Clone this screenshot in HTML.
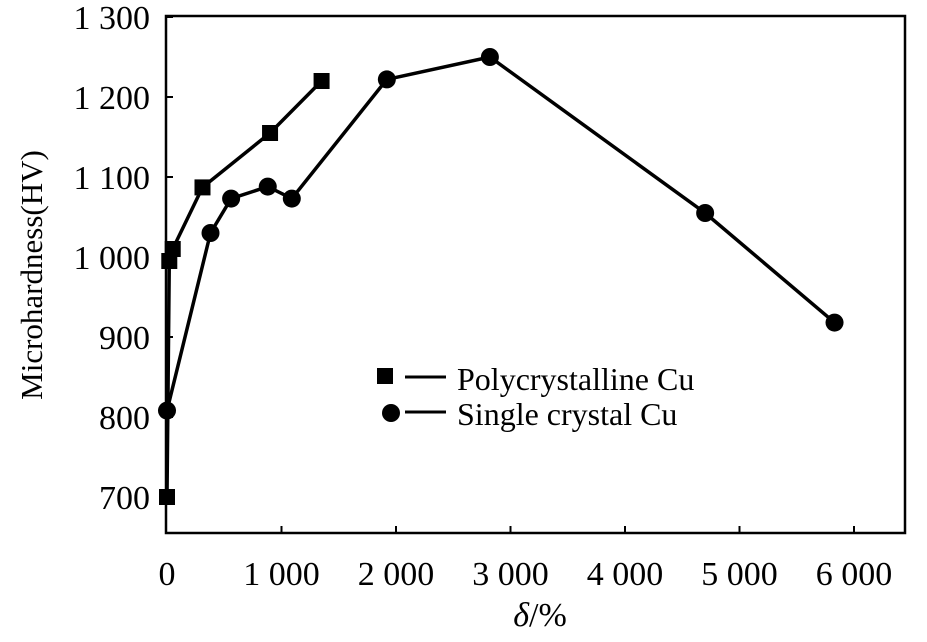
<!DOCTYPE html>
<html><head><meta charset="utf-8"><style>
body{margin:0;background:#fff}
text{font-family:"Liberation Serif",serif;fill:#000}
</style></head><body>
<svg width="927" height="637" xmlns="http://www.w3.org/2000/svg">
<rect x="166" y="16" width="739" height="517" fill="none" stroke="#000" stroke-width="2.5"/>
<g id="ticks"></g>
<g id="series"></g>
<g>
<rect x="377" y="368" width="16" height="16" fill="#000"/>
<line x1="405" y1="377" x2="446" y2="377" stroke="#000" stroke-width="3"/>
<text x="457" y="390" font-size="32">Polycrystalline Cu</text>
<circle cx="391" cy="413" r="9" fill="#000"/>
<line x1="405" y1="412" x2="446" y2="412" stroke="#000" stroke-width="3"/>
<text x="457" y="425" font-size="32">Single crystal Cu</text>
</g>
<text transform="translate(42,275) rotate(-90)" text-anchor="middle" font-size="31">Microhardness(HV)</text>
<text x="540" y="626" text-anchor="middle" font-size="34"><tspan font-style="italic">δ</tspan>/%</text>
</svg>
<script>
const xTicks=[0,1000,2000,3000,4000,5000,6000];
const xTickLabels=["0","1 000","2 000","3 000","4 000","5 000","6 000"];
const yTicks=[700,800,900,1000,1100,1200,1300];
const yTickLabels=["700","800","900","1 000","1 100","1 200","1 300"];
const polyX=[0,20,50,310,900,1350];
const polyY=[700,995,1010,1087,1155,1220];
const singleX=[0,380,560,880,1090,1920,2820,4700,5830];
const singleY=[808,1030,1073,1088,1073,1222,1250,1055,918];
const NS="http://www.w3.org/2000/svg";
function sx(v){return 167+v*0.1145;}
function sy(v){return 17+(1300-v)*0.80;}
const tg=document.getElementById('ticks');
function mk(tag,attrs,parent){const e=document.createElementNS(NS,tag);for(const k in attrs)e.setAttribute(k,attrs[k]);parent.appendChild(e);return e;}
xTicks.forEach((v,i)=>{
  if(v>0){const t=mk('line',{x1:sx(v),x2:sx(v),y1:533,y2:526,stroke:'#000','stroke-width':2},tg);
  
  }
  const l=mk('text',{x:sx(v),y:585,'text-anchor':'middle','font-size':34},tg);
  
  
  l.textContent=xTickLabels[i];
});
yTicks.forEach((v,i)=>{
  const t=mk('line',{x1:166,x2:173,y1:sy(v),y2:sy(v),stroke:'#000','stroke-width':2},tg);
  
  
  const l=mk('text',{x:150,y:sy(v)+12,'text-anchor':'end','font-size':34},tg);
  
  
  l.textContent=yTickLabels[i];
});
const sg=document.getElementById('series');
function line(xs,ys,name){
  const p=mk('polyline',{points:xs.map((x,i)=>sx(x)+','+sy(ys[i])).join(' '),fill:'none',stroke:'#000','stroke-width':3.5},sg);
  
  
}
line(polyX,polyY,'polycrystalline-line');
line(singleX,singleY,'single-crystal-line');
polyX.forEach((x,i)=>{
  const r=mk('rect',{x:sx(x)-8,y:sy(polyY[i])-8,width:16,height:16,fill:'#000'},sg);
  
  
});
singleX.forEach((x,i)=>{
  const c=mk('circle',{cx:sx(x),cy:sy(singleY[i]),r:9,fill:'#000'},sg);
  
  
});
</script>
</body></html>
